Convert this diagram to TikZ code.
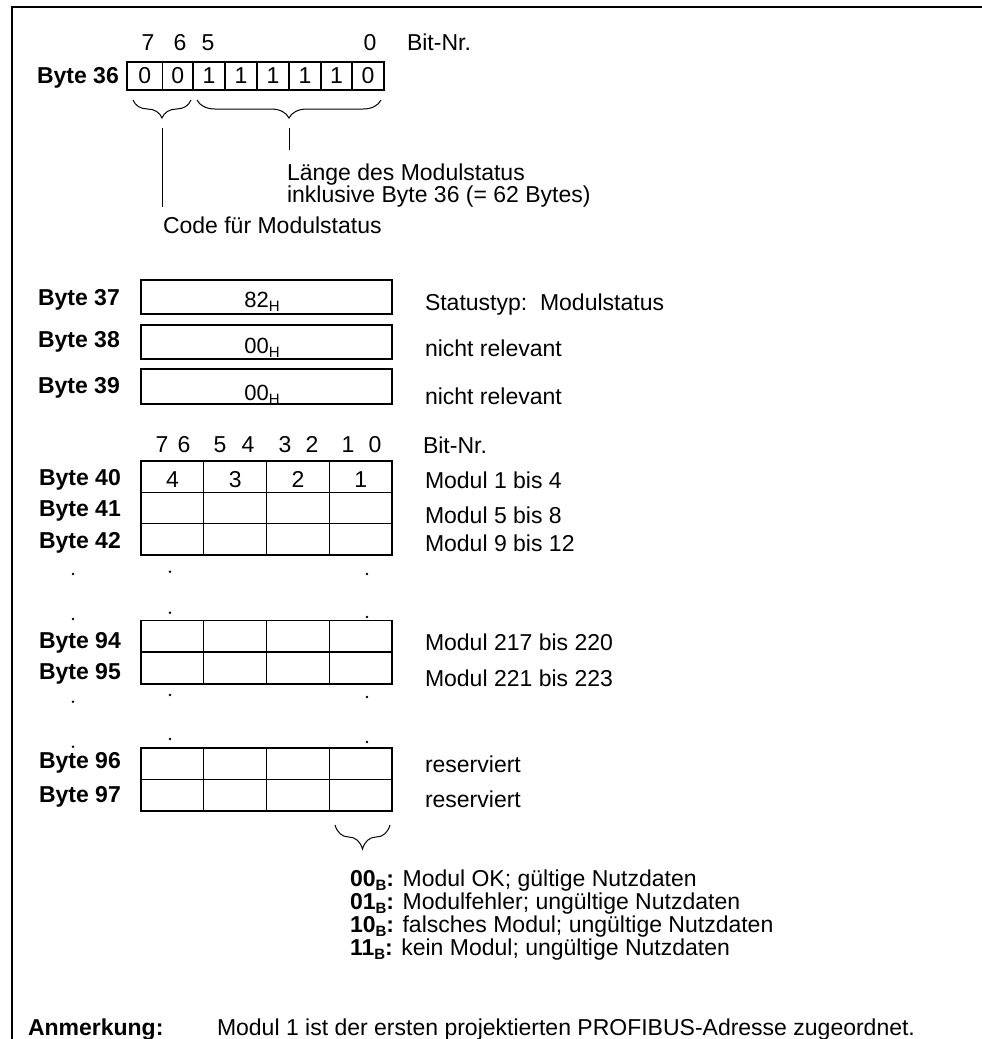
\documentclass[tikz,border=0pt]{standalone}
\usepackage{fontspec}
\setmainfont{Liberation Sans}
\usetikzlibrary{decorations.pathreplacing}
\newcommand\subsc[1]{\raisebox{-4pt}{\fontsize{15}{15}\selectfont #1}}
\begin{document}
\begin{tikzpicture}[x=1pt,y=-1pt,
  every node/.style={inner sep=0pt, outer sep=0pt},
  txt/.style={font=\fontsize{23}{23}\selectfont, anchor=base west},
  lbl/.style={font=\fontsize{23}{23}\selectfont\bfseries, anchor=base west},
  dig/.style={font=\fontsize{23}{23}\selectfont, anchor=base},
  boxdig/.style={font=\fontsize{22}{22}\selectfont, anchor=base},
  cellbox/.style={draw, line width=1.4pt, anchor=north west},
  lead/.style={line width=1pt},
  brc/.style={decorate, decoration={brace, mirror, amplitude=#1}, line width=1pt},
  pt/.style={circle, fill, minimum size=2.6pt}
]
\useasboundingbox (0,0) rectangle (982,1039);
% frame
\draw[line width=1.3pt] (12,1039) -- (12,7) -- (982,7);

% ---------------- Byte 36
\node[lbl] (l36) at (37,83) {Byte 36};
\foreach \i/\a/\b/\v in {1/127/162.5/0,2/162.5/193/0,3/193/225/1,4/225/257/1,5/257/289/1,6/289/321/1,7/321/352/1,8/352/384/0}{
  \node[cellbox, minimum width={(\b-\a)*1pt}, minimum height=28pt,
        font=\fontsize{23}{23}\selectfont] (c36-\i) at (\a,62) {\v};
}
\node[dig] (n7) at (148,50) {7};
\node[dig] (n6) at (180,50) {6};
\node[dig] (n5) at (208,50) {5};
\node[dig] (n0) at (370,50) {0};
\node[txt] (bitnr1) at (407,50) {Bit-Nr.};

\draw[brc=18pt] (133,100) -- (191,100);
\draw[brc=18pt] (197,100) -- (381,100);
\coordinate (t1a) at (162,128);
\coordinate (t1b) at (162,207);
\coordinate (t2a) at (289,128);
\coordinate (t2b) at (289,150);
\draw[lead] (t1a) -- (t1b);
\draw[lead] (t2a) -- (t2b);
\node[txt] (laenge) at (287,180) {Länge des Modulstatus};
\node[txt] (inkl) at (287,202) {inklusive Byte 36 (= 62 Bytes)};
\node[txt] (code) at (163,233) {Code für Modulstatus};

% ---------------- Byte 37-39
\node[lbl] (l37) at (38,305) {Byte 37};
\node[lbl] (l38) at (38,347) {Byte 38};
\node[lbl] (l39) at (38,393) {Byte 39};
\node[cellbox, minimum width=251pt, minimum height=34pt] (b37) at (141,280) {};
\node[cellbox, minimum width=251pt, minimum height=34pt] (b38) at (141,325) {};
\node[cellbox, minimum width=251pt, minimum height=35pt] (b39) at (141,369) {};
\node[boxdig] (v37) at (262,307) {82\subsc{H}};
\node[boxdig] (v38) at (262,353) {00\subsc{H}};
\node[boxdig] (v39) at (262,400) {00\subsc{H}};
\node[txt] (r37) at (425,310.5) {Statustyp:~~Modulstatus};
\node[txt] (r38) at (425,356.5) {nicht relevant};
\node[txt] (r39) at (425,404) {nicht relevant};

% ---------------- Grid bit numbers
\foreach \x/\d in {162/7,184/6,220/5,248/4,285/3,312/2,348/1,375/0}{
  \node[dig] (g\d) at (\x,452) {\d};
}
\node[txt] (bitnr2) at (423,453) {Bit-Nr.};

% rows 40-42
\foreach \r/\top in {40/461,41/492.3,42/523.6, 94/620.7,95/652.4, 96/748,97/779.5}{
  \foreach \c in {0,1,2,3}{
    \node[cellbox, minimum width=62.75pt, minimum height=31.4pt] (g\r-\c) at ({141+62.75*\c},\top) {};
  }
}
\foreach \c/\v in {0/4,1/3,2/2,3/1}{
  \node[dig] (m\v) at ({172.4+62.75*\c},487) {\v};
}
\node[lbl] (l40) at (39,485) {Byte 40};
\node[lbl] (l41) at (39,516.5) {Byte 41};
\node[lbl] (l42) at (39,548.3) {Byte 42};
\node[lbl] (l94) at (39,648) {Byte 94};
\node[lbl] (l95) at (39,679) {Byte 95};
\node[lbl] (l96) at (39,768) {Byte 96};
\node[lbl] (l97) at (39,802) {Byte 97};

\node[txt] (r40) at (425,488) {Modul 1 bis 4};
\node[txt] (r41) at (425,523) {Modul 5 bis 8};
\node[txt] (r42) at (425,551.7) {Modul 9 bis 12};
\node[txt] (r94) at (425,650) {Modul 217 bis 220};
\node[txt] (r95) at (425,686) {Modul 221 bis 223};
\node[txt] (r96) at (425,772) {reserviert};
\node[txt] (r97) at (425,807) {reserviert};

% dots
\foreach \n/\x/\y in {a1/73/574,a2/170/571.7,a3/367/574,
                      b1/73/619,b2/170/612.7,b3/367/617,
                      c1/73/701.7,c2/170/695,c3/367/697,
                      d1/73/746.7,d2/170/739,d3/367/742}{
  \node[pt] (dot\n) at (\x,\y) {};
}

% bottom brace and legend
\draw[brc=24pt] (335,825) -- (390,825);
\node[txt] (k00) at (350,886) {\textbf{00\subsc{B}:} Modul OK; gültige Nutzdaten};
\node[txt] (k01) at (350,909.3) {\textbf{01\subsc{B}:} Modulfehler; ungültige Nutzdaten};
\node[txt] (k10) at (350,932.6) {\textbf{10\subsc{B}:} falsches Modul; ungültige Nutzdaten};
\node[txt] (k11) at (350,955.9) {\textbf{11\subsc{B}:} kein Modul; ungültige Nutzdaten};

\node[lbl] (anm) at (28,1035) {Anmerkung:};
\node[txt] (anmt) at (217,1035) {Modul 1 ist der ersten projektierten PROFIBUS-Adresse zugeordnet.};
\end{tikzpicture}
\end{document}
